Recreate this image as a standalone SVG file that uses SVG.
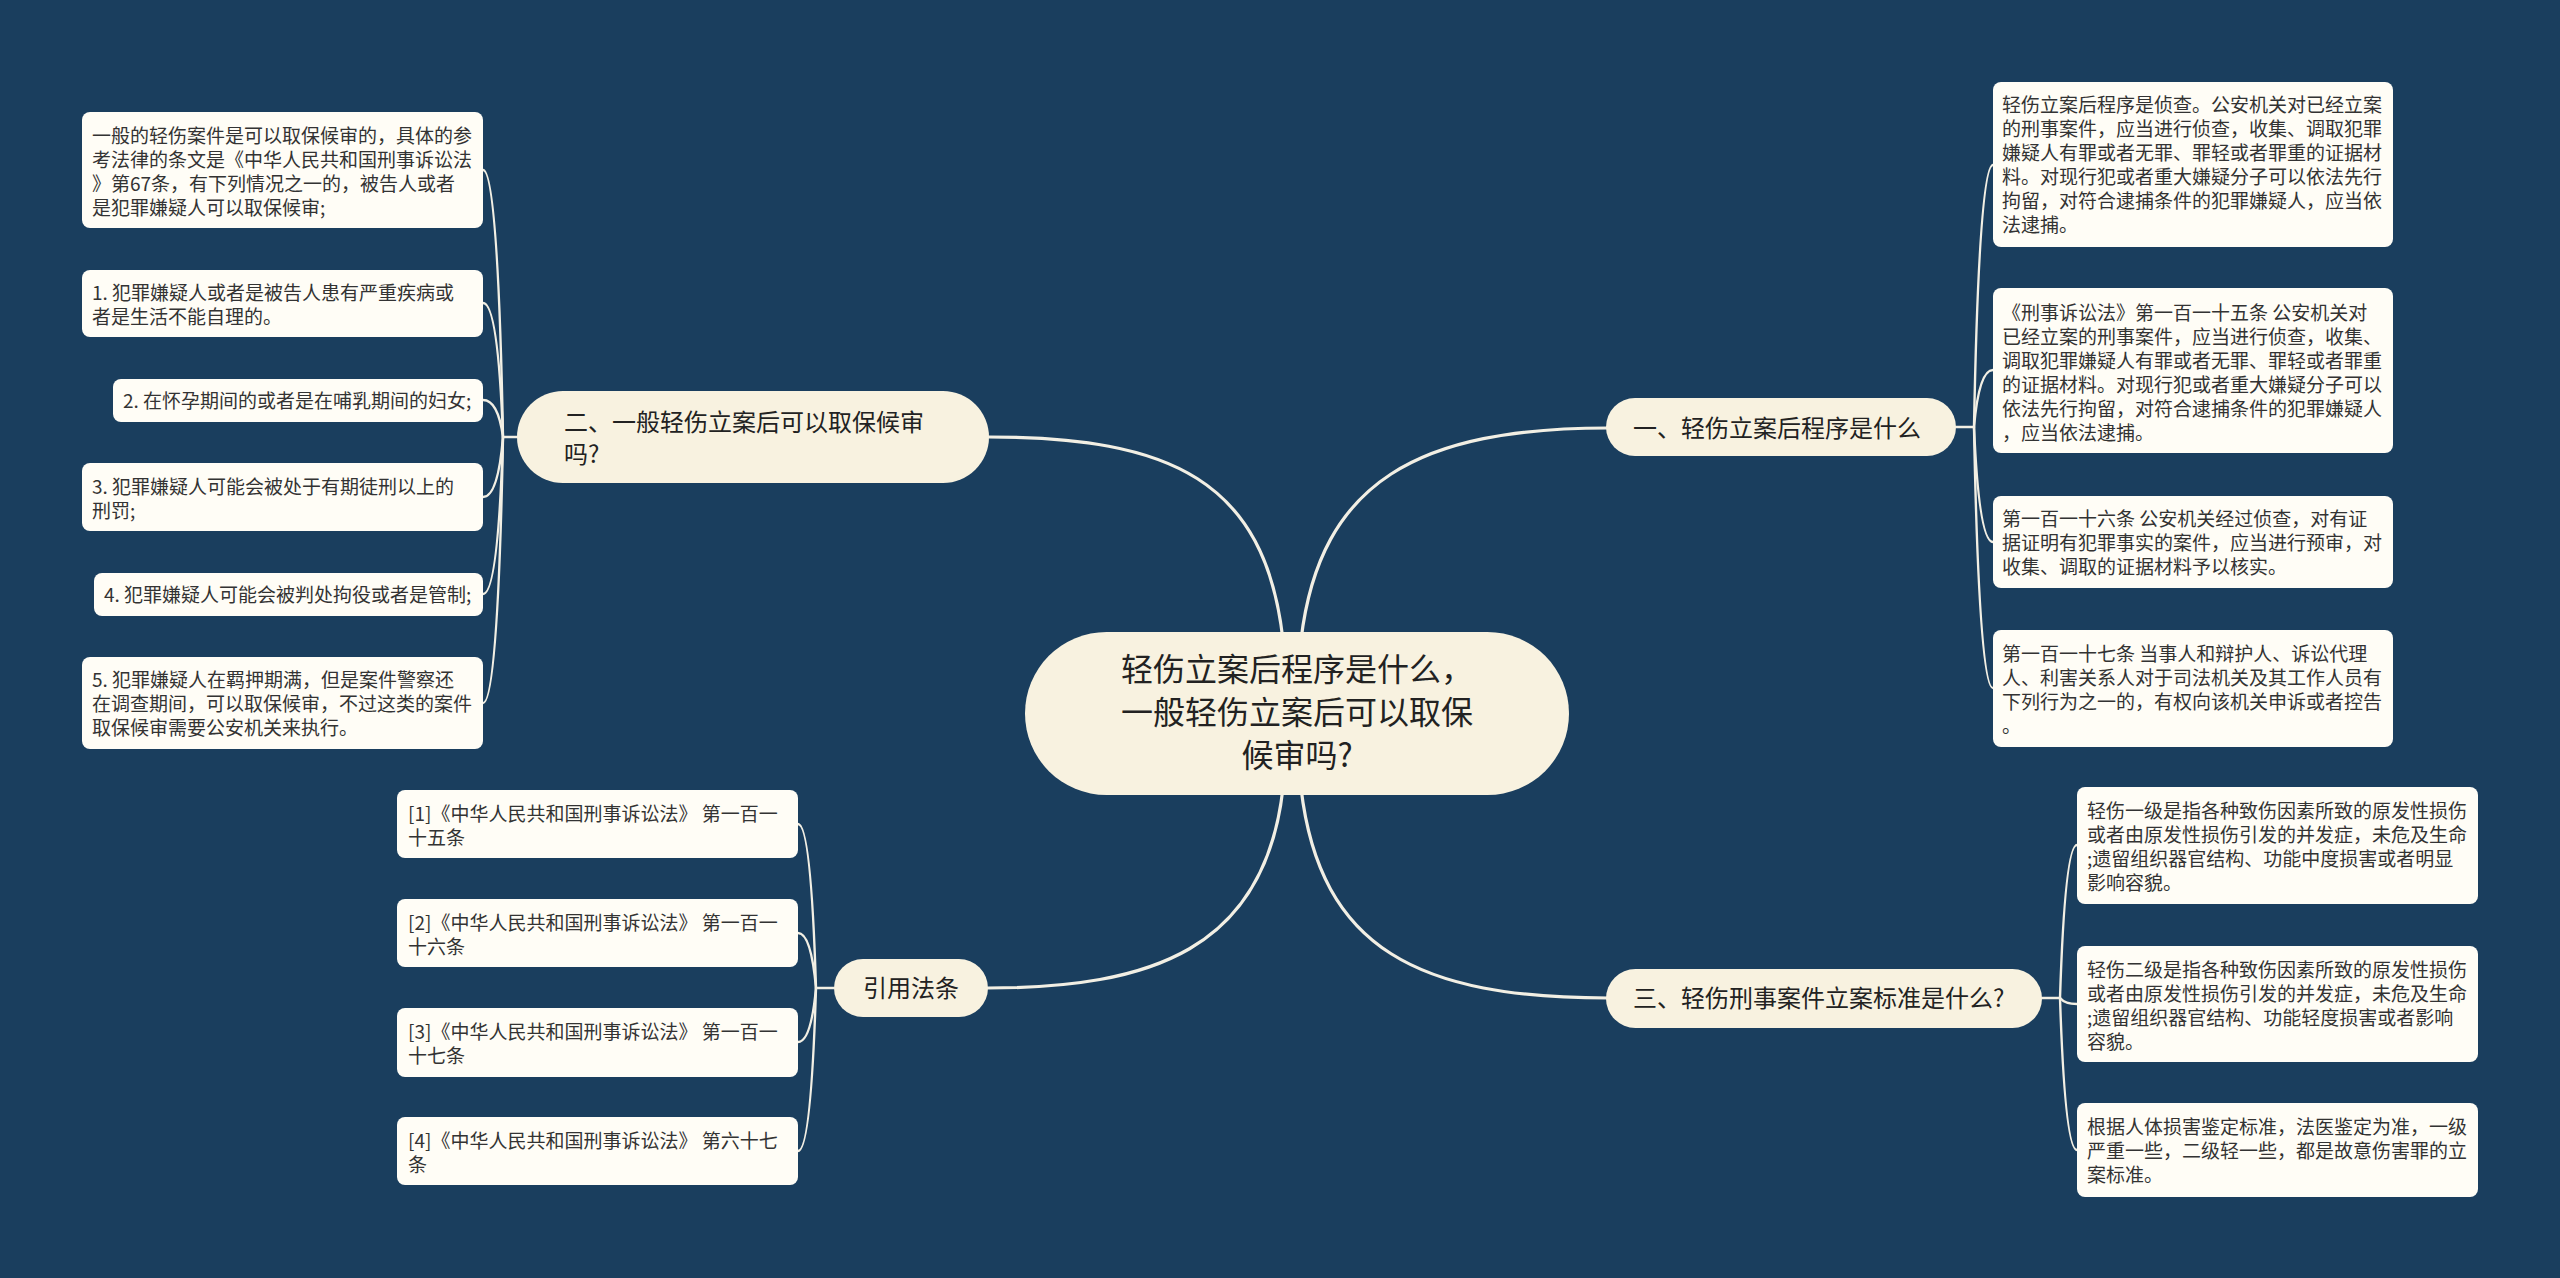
<svg xmlns="http://www.w3.org/2000/svg" width="2560" height="1278" viewBox="0 0 2560 1278">
<style>
.bg{fill:#1a3e5e}
.main{fill:#f8f2e0}
.br{fill:#f8f2e0}
.leaf{fill:#fffdf6}
.t{font-family:"Noto Sans CJK SC","Noto Sans",sans-serif;fill:#222}
.tc{font-size:32px;text-anchor:middle}
.tb{font-size:24px}
.tl{font-size:19px;fill:#333}
.c1{fill:none;stroke:#f2efe4;stroke-width:3.2;stroke-linecap:round}
.c2{fill:none;stroke:#f2efe4;stroke-width:2.4;stroke-linecap:round}
</style>
<rect class="bg" x="0" y="0" width="2560" height="1278"/>
<g id="connectors">
<path class="c1" d="M1301 640 C1320 480 1420 428 1608 428"/>
<path class="c1" d="M1283 640 C1265 480 1170 437 989 437"/>
<path class="c1" d="M1283 788 C1265 950 1150 988 988 988"/>
<path class="c1" d="M1301 788 C1320 950 1420 998 1608 998"/>
<path class="c2" d="M517 437 L503 437"/>
<path class="c2" d="M503 437 Q498 170 483 170"/>
<path class="c2" d="M503 437 Q498 303 483 303"/>
<path class="c2" d="M503 437 Q498 400 483 400"/>
<path class="c2" d="M503 437 Q498 497 483 497"/>
<path class="c2" d="M503 437 Q498 594 483 594"/>
<path class="c2" d="M503 437 Q498 703 483 703"/>
<path class="c2" d="M1956 427 L1974 427"/>
<path class="c2" d="M1974 427 Q1979 165 1993 165"/>
<path class="c2" d="M1974 427 Q1979 370 1993 370"/>
<path class="c2" d="M1974 427 Q1979 542 1993 542"/>
<path class="c2" d="M1974 427 Q1979 688 1993 688"/>
<path class="c2" d="M2042 998 L2060 998"/>
<path class="c2" d="M2060 998 Q2065 845 2077 845"/>
<path class="c2" d="M2060 998 Q2065 1004 2077 1004"/>
<path class="c2" d="M2060 998 Q2065 1150 2077 1150"/>
<path class="c2" d="M834 988 L816 988"/>
<path class="c2" d="M816 988 Q811 824 798 824"/>
<path class="c2" d="M816 988 Q811 933 798 933"/>
<path class="c2" d="M816 988 Q811 1042 798 1042"/>
<path class="c2" d="M816 988 Q811 1151 798 1151"/>
</g>
<g id="center">
<rect class="main" x="1025" y="632" width="544" height="163" rx="81.5"/>
<text class="t tc"><tspan x="1297" y="681">轻伤立案后程序是什么，</tspan><tspan x="1297" y="724">一般轻伤立案后可以取保</tspan><tspan x="1297" y="767">候审吗?</tspan></text>
</g>
<g id="b1">
<rect class="br" x="1606" y="398" width="350" height="58" rx="29"/>
<text class="t tb" x="1633" y="437">一、轻伤立案后程序是什么</text>
</g>
<g id="b2">
<rect class="br" x="517" y="391" width="472" height="92" rx="46"/>
<text class="t tb"><tspan x="564" y="431">二、一般轻伤立案后可以取保候审</tspan><tspan x="564" y="463">吗?</tspan></text>
</g>
<g id="b3">
<rect class="br" x="1606" y="969" width="436" height="59" rx="29.5"/>
<text class="t tb" x="1633" y="1007">三、轻伤刑事案件立案标准是什么?</text>
</g>
<g id="b4">
<rect class="br" x="834" y="959" width="154" height="58" rx="29"/>
<text class="t tb" x="911" y="997" text-anchor="middle">引用法条</text>
</g>
<g id="l1">
<rect class="leaf" x="82" y="112" width="401" height="116" rx="8"/>
<text class="t tl"><tspan x="92" y="143">一般的轻伤案件是可以取保候审的，具体的参</tspan><tspan x="92" y="167">考法律的条文是《中华人民共和国刑事诉讼法</tspan><tspan x="92" y="191">》第67条，有下列情况之一的，被告人或者</tspan><tspan x="92" y="215">是犯罪嫌疑人可以取保候审;</tspan></text>
</g>
<g id="l2">
<rect class="leaf" x="82" y="270" width="401" height="67" rx="8"/>
<text class="t tl"><tspan x="92" y="300">1. 犯罪嫌疑人或者是被告人患有严重疾病或</tspan><tspan x="92" y="324">者是生活不能自理的。</tspan></text>
</g>
<g id="l3">
<rect class="leaf" x="113" y="379" width="370" height="43" rx="8"/>
<text class="t tl" x="123" y="408">2. 在怀孕期间的或者是在哺乳期间的妇女;</text>
</g>
<g id="l4">
<rect class="leaf" x="82" y="463" width="401" height="68" rx="8"/>
<text class="t tl"><tspan x="92" y="494">3. 犯罪嫌疑人可能会被处于有期徒刑以上的</tspan><tspan x="92" y="518">刑罚;</tspan></text>
</g>
<g id="l5">
<rect class="leaf" x="94" y="573" width="389" height="43" rx="8"/>
<text class="t tl" x="104" y="602">4. 犯罪嫌疑人可能会被判处拘役或者是管制;</text>
</g>
<g id="l6">
<rect class="leaf" x="82" y="657" width="401" height="92" rx="8"/>
<text class="t tl"><tspan x="92" y="687">5. 犯罪嫌疑人在羁押期满，但是案件警察还</tspan><tspan x="92" y="711">在调查期间，可以取保候审，不过这类的案件</tspan><tspan x="92" y="735">取保候审需要公安机关来执行。</tspan></text>
</g>
<g id="r1">
<rect class="leaf" x="1993" y="82" width="400" height="165" rx="8"/>
<text class="t tl"><tspan x="2002" y="112">轻伤立案后程序是侦查。公安机关对已经立案</tspan><tspan x="2002" y="136">的刑事案件，应当进行侦查，收集、调取犯罪</tspan><tspan x="2002" y="160">嫌疑人有罪或者无罪、罪轻或者罪重的证据材</tspan><tspan x="2002" y="184">料。对现行犯或者重大嫌疑分子可以依法先行</tspan><tspan x="2002" y="208">拘留，对符合逮捕条件的犯罪嫌疑人，应当依</tspan><tspan x="2002" y="232">法逮捕。</tspan></text>
</g>
<g id="r2">
<rect class="leaf" x="1993" y="288" width="400" height="165" rx="8"/>
<text class="t tl"><tspan x="2002" y="320">《刑事诉讼法》第一百一十五条 公安机关对</tspan><tspan x="2002" y="344">已经立案的刑事案件，应当进行侦查，收集、</tspan><tspan x="2002" y="368">调取犯罪嫌疑人有罪或者无罪、罪轻或者罪重</tspan><tspan x="2002" y="392">的证据材料。对现行犯或者重大嫌疑分子可以</tspan><tspan x="2002" y="416">依法先行拘留，对符合逮捕条件的犯罪嫌疑人</tspan><tspan x="2002" y="440">，应当依法逮捕。</tspan></text>
</g>
<g id="r3">
<rect class="leaf" x="1993" y="496" width="400" height="92" rx="8"/>
<text class="t tl"><tspan x="2002" y="526">第一百一十六条 公安机关经过侦查，对有证</tspan><tspan x="2002" y="550">据证明有犯罪事实的案件，应当进行预审，对</tspan><tspan x="2002" y="574">收集、调取的证据材料予以核实。</tspan></text>
</g>
<g id="r4">
<rect class="leaf" x="1993" y="630" width="400" height="117" rx="8"/>
<text class="t tl"><tspan x="2002" y="661">第一百一十七条 当事人和辩护人、诉讼代理</tspan><tspan x="2002" y="685">人、利害关系人对于司法机关及其工作人员有</tspan><tspan x="2002" y="709">下列行为之一的，有权向该机关申诉或者控告</tspan><tspan x="2002" y="733">。</tspan></text>
</g>
<g id="s1">
<rect class="leaf" x="2077" y="787" width="401" height="117" rx="8"/>
<text class="t tl"><tspan x="2087" y="818">轻伤一级是指各种致伤因素所致的原发性损伤</tspan><tspan x="2087" y="842">或者由原发性损伤引发的并发症，未危及生命</tspan><tspan x="2087" y="866">;遗留组织器官结构、功能中度损害或者明显</tspan><tspan x="2087" y="890">影响容貌。</tspan></text>
</g>
<g id="s2">
<rect class="leaf" x="2077" y="946" width="401" height="116" rx="8"/>
<text class="t tl"><tspan x="2087" y="977">轻伤二级是指各种致伤因素所致的原发性损伤</tspan><tspan x="2087" y="1001">或者由原发性损伤引发的并发症，未危及生命</tspan><tspan x="2087" y="1025">;遗留组织器官结构、功能轻度损害或者影响</tspan><tspan x="2087" y="1049">容貌。</tspan></text>
</g>
<g id="s3">
<rect class="leaf" x="2077" y="1103" width="401" height="94" rx="8"/>
<text class="t tl"><tspan x="2087" y="1134">根据人体损害鉴定标准，法医鉴定为准，一级</tspan><tspan x="2087" y="1158">严重一些，二级轻一些，都是故意伤害罪的立</tspan><tspan x="2087" y="1182">案标准。</tspan></text>
</g>
<g id="c1">
<rect class="leaf" x="397" y="790" width="401" height="68" rx="8"/>
<text class="t tl"><tspan x="408" y="821">[1]《中华人民共和国刑事诉讼法》 第一百一</tspan><tspan x="408" y="845">十五条</tspan></text>
</g>
<g id="c2">
<rect class="leaf" x="397" y="899" width="401" height="68" rx="8"/>
<text class="t tl"><tspan x="408" y="930">[2]《中华人民共和国刑事诉讼法》 第一百一</tspan><tspan x="408" y="954">十六条</tspan></text>
</g>
<g id="c3">
<rect class="leaf" x="397" y="1008" width="401" height="69" rx="8"/>
<text class="t tl"><tspan x="408" y="1039">[3]《中华人民共和国刑事诉讼法》 第一百一</tspan><tspan x="408" y="1063">十七条</tspan></text>
</g>
<g id="c4">
<rect class="leaf" x="397" y="1117" width="401" height="68" rx="8"/>
<text class="t tl"><tspan x="408" y="1148">[4]《中华人民共和国刑事诉讼法》 第六十七</tspan><tspan x="408" y="1172">条</tspan></text>
</g>
</svg>
